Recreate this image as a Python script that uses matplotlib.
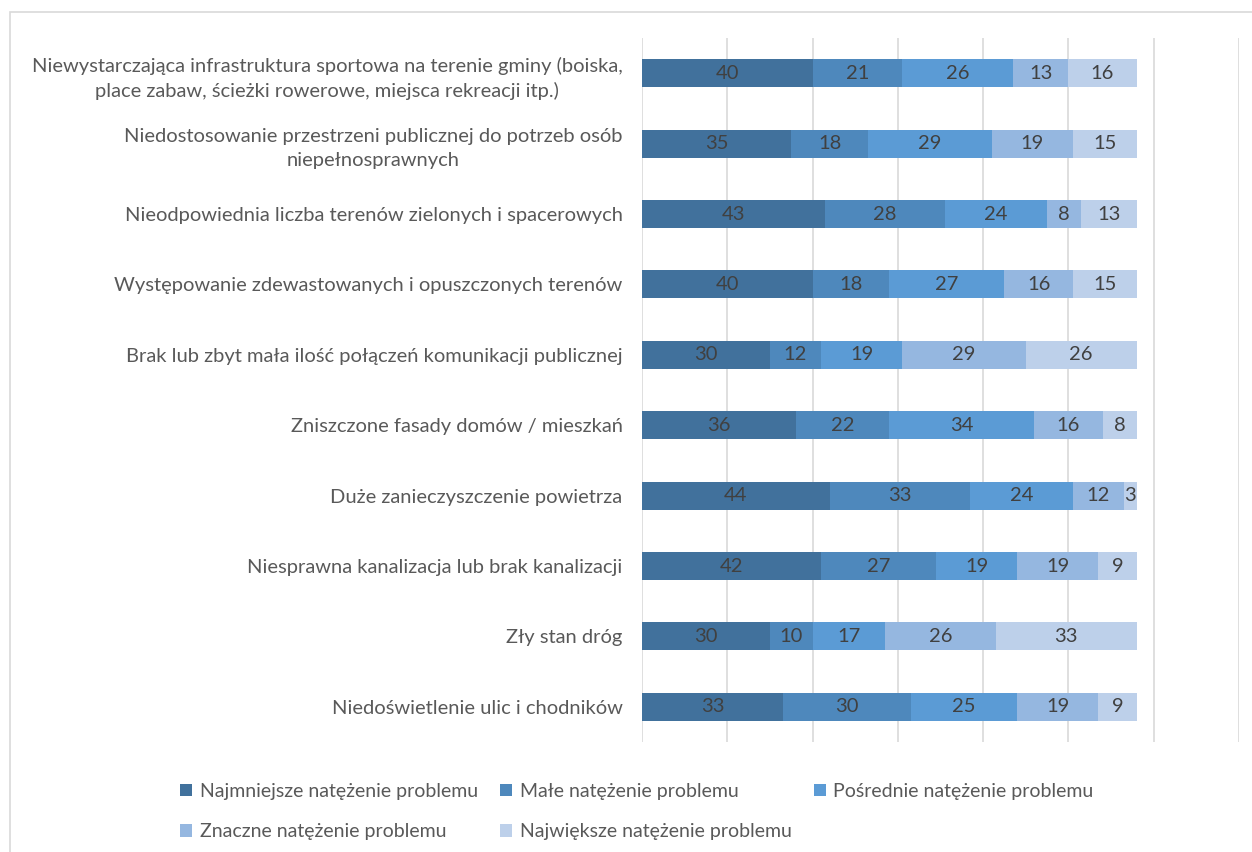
import matplotlib.pyplot as plt
import numpy as np

categories = [
    "Niewystarczająca infrastruktura sportowa na terenie gminy (boiska,\nplace zabaw, ścieżki rowerowe, miejsca rekreacji itp.)",
    "Niedostosowanie przestrzeni publicznej do potrzeb osób\nniepełnosprawnych",
    "Nieodpowiednia liczba terenów zielonych i spacerowych",
    "Występowanie zdewastowanych i opuszczonych terenów",
    "Brak lub zbyt mała ilość połączeń komunikacji publicznej",
    "Zniszczone fasady domów / mieszkań",
    "Duże zanieczyszczenie powietrza",
    "Niesprawna kanalizacja lub brak kanalizacji",
    "Zły stan dróg",
    "Niedoświetlenie ulic i chodników",
]
series_names = [
    "Najmniejsze natężenie problemu",
    "Małe natężenie problemu",
    "Pośrednie natężenie problemu",
    "Znaczne natężenie problemu",
    "Największe natężenie problemu",
]
najmniejsze = [40, 35, 43, 40, 30, 36, 44, 42, 30, 33]
male = [21, 18, 28, 18, 12, 22, 33, 27, 10, 30]
posrednie = [26, 29, 24, 27, 19, 34, 24, 19, 17, 25]
znaczne = [13, 19, 8, 16, 29, 16, 12, 19, 26, 19]
najwieksze = [16, 15, 13, 15, 26, 8, 3, 9, 33, 9]
colors = ["#41719C", "#4E88BC", "#5B9BD5", "#95B7E0", "#BDD0EA"]

plt.rcParams['font.family'] = ['Lato', 'DejaVu Sans']

fig = plt.figure(figsize=(12.52, 8.52), dpi=100)
ax = fig.add_axes([0.5128, 0.1291, 0.4768, 0.8263])

y = np.arange(len(categories))
left = np.zeros(len(categories))
for name, vals, c in zip(series_names, [najmniejsze, male, posrednie, znaczne, najwieksze], colors):
    vals = np.array(vals)
    bars = ax.barh(y, vals, left=left, height=0.4, color=c, label=name, zorder=3)
    ax.bar_label(bars, labels=[str(v) for v in vals], label_type='center',
                 color='#404040', fontsize=14.5)
    left += vals

ax.set_xlim(0, 140)
ax.set_ylim(len(categories) - 0.5, -0.5)
ax.set_xticks(np.arange(0, 141, 20))
ax.set_xticklabels([])
ax.set_yticks(y)
ax.set_yticklabels(categories, fontsize=14.5, color='#595959', multialignment='center',
                   linespacing=1.5)
ax.tick_params(length=0, pad=14)
ax.grid(axis='x', color='#D9D9D9', linewidth=1.2, zorder=0)
for s in ax.spines.values():
    s.set_visible(False)

# row-wise legend order for 3 columns
handles, labels = ax.get_legend_handles_labels()
order = [0, 3, 1, 4, 2]
fig.legend([handles[i] for i in order], [labels[i] for i in order],
           loc='lower left', bbox_to_anchor=(0.13, -0.007), ncol=3, frameon=False,
           fontsize=14, labelcolor='#595959', handlelength=0.6, handleheight=0.6,
           handletextpad=0.4, columnspacing=1.15, labelspacing=1.2)

fig.patches.append(plt.Rectangle((0.008, -0.1), 1.1, 1.086, transform=fig.transFigure,
                                 fill=False, edgecolor='#D9D9D9', linewidth=1.2))

fig.savefig('out.png', dpi=100)
